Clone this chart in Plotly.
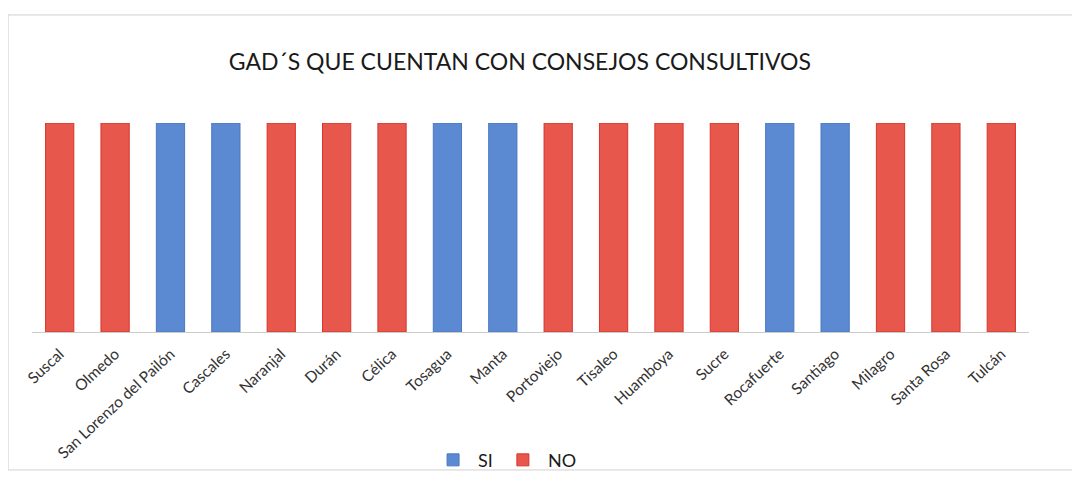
import plotly.graph_objects as go

categories = ["Suscal", "Olmedo", "San Lorenzo del Pailón", "Cascales", "Naranjal", "Durán",
              "Célica", "Tosagua", "Manta", "Portoviejo", "Tisaleo", "Huamboya", "Sucre",
              "Rocafuerte", "Santiago", "Milagro", "Santa Rosa", "Tulcán"]
si_values = [None, None, 1, 1, None, None, None, 1, 1, None, None, None, None, 1, 1, None, None, None]
no_values = [1, 1, None, None, 1, 1, 1, None, None, 1, 1, 1, 1, None, None, 1, 1, 1]

fig = go.Figure()
fig.add_trace(go.Bar(name="SI", x=categories, y=si_values, marker_color="#5B8AD2",
                     marker_line_color="#4A78C0", marker_line_width=1))
fig.add_trace(go.Bar(name="NO", x=categories, y=no_values, marker_color="#E8574C",
                     marker_line_color="#D8342A", marker_line_width=1))

fig.update_layout(
    width=1080, height=480,
    barmode="relative", bargap=0.49,
    paper_bgcolor="white", plot_bgcolor="white",
    font=dict(family="Lato, Open Sans, sans-serif", color="#333333"),
    title=dict(text="GAD´S QUE CUENTAN CON CONSEJOS CONSULTIVOS", x=0.474, xanchor="center",
               y=0.8875, yanchor="middle", font=dict(size=23, color="#1a1a1a")),
    margin=dict(l=24, r=59, t=115, b=156),
    legend=dict(orientation="h", x=0.474, xanchor="center", yref="container", y=0.058,
                yanchor="middle", font=dict(size=18, color="#1a1a1a"), itemwidth=40,
                bgcolor="rgba(0,0,0,0)"),
    xaxis=dict(tickangle=-43, tickfont=dict(size=15.5, color="#333333"), showline=True,
               linecolor="#CCCCCC", linewidth=1, ticks="outside", ticklen=6,
               tickcolor="rgba(0,0,0,0)", automargin=False),
    yaxis=dict(visible=False, range=[0, 1.0]),
    shapes=[dict(type="rect", xref="paper", yref="paper", x0=-0.024, x1=1.046, y0=-0.66, y1=1.517,
                 line=dict(color="#D0D0D0", width=1))],
)

fig.write_html("out.html")
